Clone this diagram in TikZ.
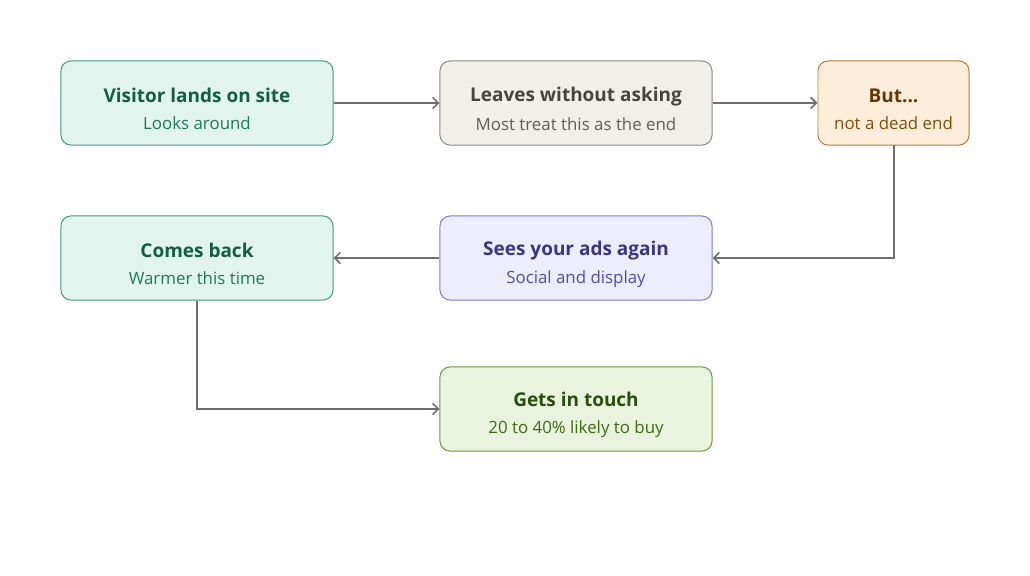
\documentclass[tikz,border=0pt]{standalone}
\usepackage{fontspec}
\setmainfont{Open Sans}
\usepackage{tikz}
\usetikzlibrary{arrows.meta,positioning,calc}
\definecolor{tealfill}{HTML}{E1F5EE}
\definecolor{tealline}{HTML}{3F9C7C}
\definecolor{tealhead}{HTML}{0F5E45}
\definecolor{tealsub}{HTML}{1D7A5A}
\definecolor{grayfill}{HTML}{F1EFEA}
\definecolor{grayline}{HTML}{8A8984}
\definecolor{grayhead}{HTML}{444441}
\definecolor{graysub}{HTML}{5F5E5A}
\definecolor{amberfill}{HTML}{FCEEDA}
\definecolor{amberline}{HTML}{B57C32}
\definecolor{amberhead}{HTML}{633806}
\definecolor{ambersub}{HTML}{854F0B}
\definecolor{purpfill}{HTML}{EEEDFE}
\definecolor{purpline}{HTML}{8078DA}
\definecolor{purphead}{HTML}{3C3489}
\definecolor{purpsub}{HTML}{534AB7}
\definecolor{greenfill}{HTML}{EAF3DE}
\definecolor{greenline}{HTML}{6A9A3A}
\definecolor{greenhead}{HTML}{27500A}
\definecolor{greensub}{HTML}{3B6D11}
\definecolor{linkgray}{HTML}{6E6E6E}
\newcommand{\boxhead}{\rule{0pt}{19pt}\fontsize{13.5}{16}\selectfont\bfseries}
\newcommand{\boxsub}{\fontsize{12}{14}\selectfont}

\begin{document}
\begin{tikzpicture}[x=0.025cm,y=-0.025cm,
    box/.style={draw, rounded corners=0.25cm, line width=0.7pt,
      minimum width=6.8cm, minimum height=2.1cm, align=center,
      inner sep=0pt},
    wide/.style={minimum width=3.775cm},
    link/.style={draw=linkgray, line width=1.4pt,
      -{Straight Barb[length=4pt,width=8pt,line width=1.2pt]}}]
    \useasboundingbox (0,0) rectangle (1030,576);

    \node [box, fill=tealfill, draw=tealline] (lands) at (197,103)
      {{\boxhead\color{tealhead}Visitor lands on site}\\[7pt]
       {\boxsub\color{tealsub}Looks around}};
    \node [box, fill=grayfill, draw=grayline] (leaves) at (576,103)
      {{\boxhead\color{grayhead}Leaves without asking}\\[7pt]
       {\boxsub\color{graysub}Most treat this as the end}};
    \node [box, wide, fill=amberfill, draw=amberline] (but) at (893.5,103)
      {{\boxhead\color{amberhead}But...}\\[7pt]
       {\boxsub\color{ambersub}not a dead end}};
    \node [box, fill=purpfill, draw=purpline] (ads) at (576,258)
      {{\boxhead\color{purphead}Sees your ads again}\\[7pt]
       {\boxsub\color{purpsub}Social and display}};
    \node [box, fill=tealfill, draw=tealline] (back) at (197,258)
      {{\boxhead\color{tealhead}Comes back}\\[7pt]
       {\boxsub\color{tealsub}Warmer this time}};
    \node [box, fill=greenfill, draw=greenline] (touch) at (576,409)
      {{\boxhead\color{greenhead}Gets in touch}\\[7pt]
       {\boxsub\color{greensub}20 to 40\% likely to buy}};

    \draw [link] (lands) -- (leaves);
    \draw [link] (leaves) -- (but);
    \draw [link] (but.south) |- (ads.east);
    \draw [link] (ads) -- (back);
    \draw [link] (back.south) |- (touch.west);

  \end{tikzpicture}
\end{document}
